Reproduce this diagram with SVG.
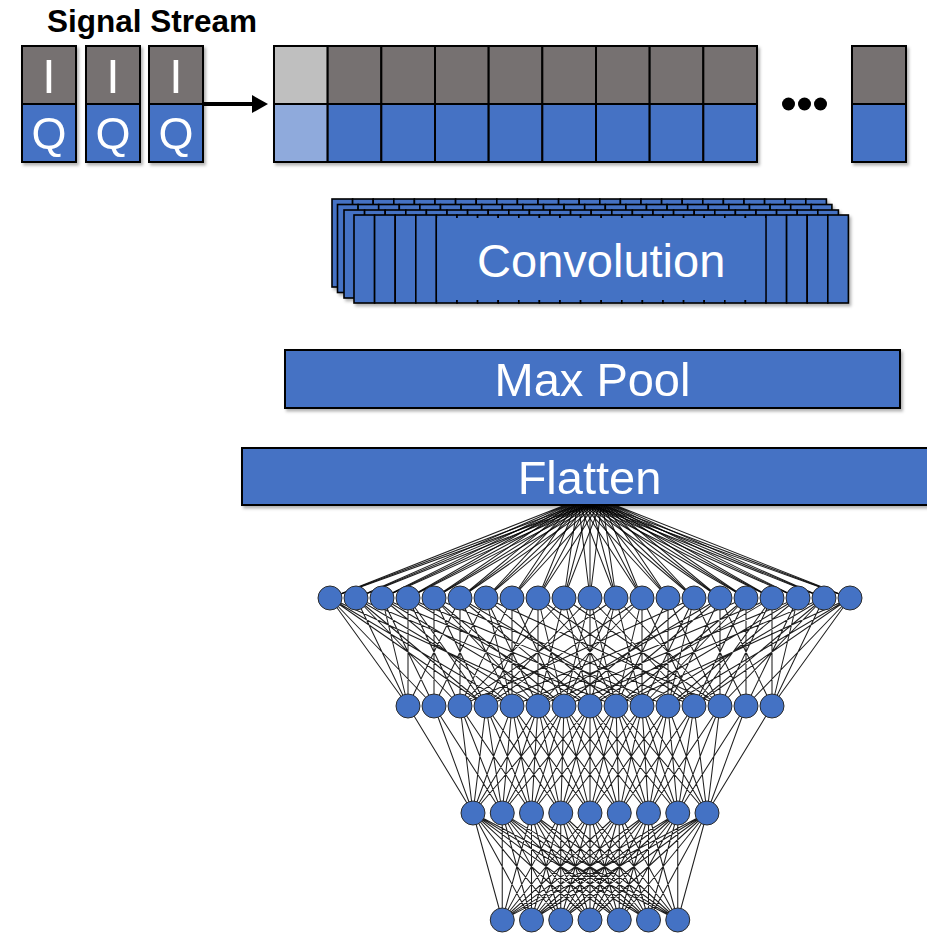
<svg xmlns="http://www.w3.org/2000/svg" xmlns:xlink="http://www.w3.org/1999/xlink" width="927" height="933" viewBox="0 0 927 933">
<style>
  .ttl{font-family:"Liberation Sans",Arial,Helvetica,sans-serif;font-weight:bold;font-size:31.5px;fill:#000}
  .lbl{font-family:"Liberation Sans",Arial,Helvetica,sans-serif;fill:#fff;text-anchor:middle}
  .gray{fill:#767171;stroke:#000;stroke-width:2}
  .blue{fill:#4472C4;stroke:#000;stroke-width:2}
  .lgray{fill:#BFBFBF;stroke:#000;stroke-width:2}
  .lblue{fill:#8FAADC;stroke:#000;stroke-width:2}
  .strip{fill:#4472C4;stroke:#000;stroke-width:1.6}
  .wire{fill:none;stroke:#000;stroke-width:1.05;stroke-opacity:0.88}
  .neuron{fill:#4472C4;stroke:#2b2b2b;stroke-width:1}
</style>
<defs>
  <filter id="sh" x="-10%" y="-10%" width="130%" height="140%">
    <feDropShadow dx="2" dy="2.5" stdDeviation="1.8" flood-color="#000" flood-opacity="0.3"/>
  </filter>
  <marker id="head" markerUnits="userSpaceOnUse" markerWidth="18" markerHeight="18" refX="0" refY="9" orient="auto">
    <path d="M0 0L16 9L0 18z" fill="#000"/>
  </marker>
  <!-- one filter sheet: 24 narrow kernels side by side -->
  <g id="sheet">
    <rect class="strip" x="0" y="0" width="20.6" height="88"/>
    <rect class="strip" x="20.6" y="0" width="20.6" height="88"/>
    <rect class="strip" x="41.2" y="0" width="20.6" height="88"/>
    <rect class="strip" x="61.8" y="0" width="20.6" height="88"/>
    <rect class="strip" x="82.4" y="0" width="20.6" height="88"/>
    <rect class="strip" x="103" y="0" width="20.6" height="88"/>
    <rect class="strip" x="123.6" y="0" width="20.6" height="88"/>
    <rect class="strip" x="144.2" y="0" width="20.6" height="88"/>
    <rect class="strip" x="164.8" y="0" width="20.6" height="88"/>
    <rect class="strip" x="185.4" y="0" width="20.6" height="88"/>
    <rect class="strip" x="206" y="0" width="20.6" height="88"/>
    <rect class="strip" x="226.6" y="0" width="20.6" height="88"/>
    <rect class="strip" x="247.2" y="0" width="20.6" height="88"/>
    <rect class="strip" x="267.8" y="0" width="20.6" height="88"/>
    <rect class="strip" x="288.4" y="0" width="20.6" height="88"/>
    <rect class="strip" x="309" y="0" width="20.6" height="88"/>
    <rect class="strip" x="329.6" y="0" width="20.6" height="88"/>
    <rect class="strip" x="350.2" y="0" width="20.6" height="88"/>
    <rect class="strip" x="370.8" y="0" width="20.6" height="88"/>
    <rect class="strip" x="391.4" y="0" width="20.6" height="88"/>
    <rect class="strip" x="412" y="0" width="20.6" height="88"/>
    <rect class="strip" x="432.6" y="0" width="20.6" height="88"/>
    <rect class="strip" x="453.2" y="0" width="20.6" height="88"/>
    <rect class="strip" x="473.8" y="0" width="20.6" height="88"/>
  </g>
</defs>

<rect width="927" height="933" fill="#fff"/>

<!-- connectors -->
<g id="connectors">
  <path id="stream-arrow" d="M203 104H252" stroke="#000" stroke-width="4" fill="none" marker-end="url(#head)"/>
  <!-- flatten output to first dense layer -->
  <path class="wire" d="M578 500L330 598M578 500L356 598M578 500L382 598M578 500L408 598M578 500L434 598M578 500L460 598M578 500L486 598M578 500L512 598M578 500L538 598M578 500L564 598M578 500L590 598M578 500L616 598M578 500L642 598M578 500L668 598M578 500L694 598M578 500L720 598M578 500L746 598M578 500L772 598M578 500L798 598M578 500L824 598M578 500L850 598"/>
  <path class="wire" d="M590 500L330 598M590 500L356 598M590 500L382 598M590 500L408 598M590 500L434 598M590 500L460 598M590 500L486 598M590 500L512 598M590 500L538 598M590 500L564 598M590 500L590 598M590 500L616 598M590 500L642 598M590 500L668 598M590 500L694 598M590 500L720 598M590 500L746 598M590 500L772 598M590 500L798 598M590 500L824 598M590 500L850 598"/>
  <path class="wire" d="M602 500L330 598M602 500L356 598M602 500L382 598M602 500L408 598M602 500L434 598M602 500L460 598M602 500L486 598M602 500L512 598M602 500L538 598M602 500L564 598M602 500L590 598M602 500L616 598M602 500L642 598M602 500L668 598M602 500L694 598M602 500L720 598M602 500L746 598M602 500L772 598M602 500L798 598M602 500L824 598M602 500L850 598"/>
  <!-- dense layer 1 to dense layer 2 (sparse links) -->
  <path class="wire" d="M330 598l78 108M330 598l104 108M330 598l156 108M330 598l182 108M330 598l234 108
    M356 598l52 108M356 598l104 108M356 598l130 108M356 598l182 108M356 598l260 108
    M382 598l26 108M382 598l52 108M382 598l130 108M382 598l182 108M382 598l260 108
    M408 598l0 108M408 598l52 108M408 598l78 108M408 598l182 108M408 598l260 108
    M434 598l0 108M434 598l52 108M434 598l104 108M434 598l130 108M434 598l260 108
    M460 598l-52 108M460 598l0 108M460 598l52 108M460 598l130 108M460 598l182 108
    M486 598l-52 108M486 598l26 108M486 598l52 108M486 598l130 108M486 598l234 108
    M512 598l-52 108M512 598l0 108M512 598l52 108
    M538 598l-52 108M538 598l0 108M538 598l26 108M538 598l104 108M538 598l156 108
    M564 598l-104 108M564 598l-26 108M564 598l26 108M564 598l52 108M564 598l156 108
    M590 598l-104 108M590 598l-26 108M590 598l0 108M590 598l26 108M590 598l104 108
    M616 598l-156 108M616 598l-52 108M616 598l-26 108M616 598l26 108M616 598l104 108
    M642 598l-156 108M642 598l-104 108M642 598l-26 108M642 598l0 108M642 598l52 108
    M668 598l-52 108M668 598l0 108M668 598l52 108
    M694 598l-234 108M694 598l-130 108M694 598l-52 108M694 598l-26 108M694 598l52 108
    M720 598l-182 108M720 598l-130 108M720 598l-52 108M720 598l0 108M720 598l52 108
    M746 598l-260 108M746 598l-130 108M746 598l-104 108M746 598l-52 108M746 598l0 108
    M772 598l-260 108M772 598l-182 108M772 598l-78 108M772 598l-52 108M772 598l0 108
    M798 598l-260 108M798 598l-182 108M798 598l-130 108M798 598l-52 108M798 598l-26 108
    M824 598l-260 108M824 598l-182 108M824 598l-130 108M824 598l-104 108M824 598l-52 108
    M850 598l-234 108M850 598l-182 108M850 598l-156 108M850 598l-104 108M850 598l-78 108"/>
  <!-- dense layer 2 to dense layer 3 (window of 7) -->
  <path class="wire" d="M408 706L473 813M434 706L473 813M460 706L473 813M486 706L473 813M512 706L473 813M538 706L473 813M564 706L473 813
    M434 706L502.25 813M460 706L502.25 813M486 706L502.25 813M512 706L502.25 813M538 706L502.25 813M564 706L502.25 813M590 706L502.25 813
    M460 706L531.5 813M486 706L531.5 813M512 706L531.5 813M538 706L531.5 813M564 706L531.5 813M590 706L531.5 813M616 706L531.5 813
    M486 706L560.75 813M512 706L560.75 813M538 706L560.75 813M564 706L560.75 813M590 706L560.75 813M616 706L560.75 813M642 706L560.75 813
    M512 706L590 813M538 706L590 813M564 706L590 813M590 706L590 813M616 706L590 813M642 706L590 813M668 706L590 813
    M538 706L619.25 813M564 706L619.25 813M590 706L619.25 813M616 706L619.25 813M642 706L619.25 813M668 706L619.25 813M694 706L619.25 813
    M564 706L648.5 813M590 706L648.5 813M616 706L648.5 813M642 706L648.5 813M668 706L648.5 813M694 706L648.5 813M720 706L648.5 813
    M590 706L677.75 813M616 706L677.75 813M642 706L677.75 813M668 706L677.75 813M694 706L677.75 813M720 706L677.75 813M746 706L677.75 813
    M616 706L707 813M642 706L707 813M668 706L707 813M694 706L707 813M720 706L707 813M746 706L707 813M772 706L707 813"/>
  <!-- dense layer 3 to output layer (fully connected) -->
  <path class="wire" d="M473 813L502.25 920M473 813L531.5 920M473 813L560.75 920M473 813L590 920M473 813L619.25 920M473 813L648.5 920M473 813L677.75 920
    M502.25 813L502.25 920M502.25 813L531.5 920M502.25 813L560.75 920M502.25 813L590 920M502.25 813L619.25 920M502.25 813L648.5 920M502.25 813L677.75 920
    M531.5 813L502.25 920M531.5 813L531.5 920M531.5 813L560.75 920M531.5 813L590 920M531.5 813L619.25 920M531.5 813L648.5 920M531.5 813L677.75 920
    M560.75 813L502.25 920M560.75 813L531.5 920M560.75 813L560.75 920M560.75 813L590 920M560.75 813L619.25 920M560.75 813L648.5 920M560.75 813L677.75 920
    M590 813L502.25 920M590 813L531.5 920M590 813L560.75 920M590 813L590 920M590 813L619.25 920M590 813L648.5 920M590 813L677.75 920
    M619.25 813L502.25 920M619.25 813L531.5 920M619.25 813L560.75 920M619.25 813L590 920M619.25 813L619.25 920M619.25 813L648.5 920M619.25 813L677.75 920
    M648.5 813L502.25 920M648.5 813L531.5 920M648.5 813L560.75 920M648.5 813L590 920M648.5 813L619.25 920M648.5 813L648.5 920M648.5 813L677.75 920
    M677.75 813L502.25 920M677.75 813L531.5 920M677.75 813L560.75 920M677.75 813L590 920M677.75 813L619.25 920M677.75 813L648.5 920M677.75 813L677.75 920
    M707 813L502.25 920M707 813L531.5 920M707 813L560.75 920M707 813L590 920M707 813L619.25 920M707 813L648.5 920M707 813L677.75 920"/>
</g>

<!-- title -->
<text class="ttl" x="47" y="31.5">Signal Stream</text>

<!-- incoming I/Q samples -->
<g id="sample-1" filter="url(#sh)">
  <rect class="gray" x="22" y="46" width="54" height="58"/>
  <rect class="blue" x="22" y="104" width="54" height="58"/>
  <text class="lbl" x="49" y="92.5" font-size="48">I</text>
  <text class="lbl" x="49" y="149" font-size="45">Q</text>
</g>
<g id="sample-2" filter="url(#sh)">
  <rect class="gray" x="86" y="46" width="54" height="58"/>
  <rect class="blue" x="86" y="104" width="54" height="58"/>
  <text class="lbl" x="113" y="92.5" font-size="48">I</text>
  <text class="lbl" x="113" y="149" font-size="45">Q</text>
</g>
<g id="sample-3" filter="url(#sh)">
  <rect class="gray" x="149" y="46" width="54" height="58"/>
  <rect class="blue" x="149" y="104" width="54" height="58"/>
  <text class="lbl" x="176" y="92.5" font-size="48">I</text>
  <text class="lbl" x="176" y="149" font-size="45">Q</text>
</g>

<!-- sample buffer -->
<g id="buffer" filter="url(#sh)">
  <rect class="lgray" x="274" y="46" width="53.67" height="58"/>
  <rect class="lblue" x="274" y="104" width="53.67" height="58"/>
  <rect class="gray" x="327.67" y="46" width="53.67" height="58"/>
  <rect class="blue" x="327.67" y="104" width="53.67" height="58"/>
  <rect class="gray" x="381.33" y="46" width="53.67" height="58"/>
  <rect class="blue" x="381.33" y="104" width="53.67" height="58"/>
  <rect class="gray" x="435" y="46" width="53.67" height="58"/>
  <rect class="blue" x="435" y="104" width="53.67" height="58"/>
  <rect class="gray" x="488.67" y="46" width="53.67" height="58"/>
  <rect class="blue" x="488.67" y="104" width="53.67" height="58"/>
  <rect class="gray" x="542.33" y="46" width="53.67" height="58"/>
  <rect class="blue" x="542.33" y="104" width="53.67" height="58"/>
  <rect class="gray" x="596" y="46" width="53.67" height="58"/>
  <rect class="blue" x="596" y="104" width="53.67" height="58"/>
  <rect class="gray" x="649.67" y="46" width="53.67" height="58"/>
  <rect class="blue" x="649.67" y="104" width="53.67" height="58"/>
  <rect class="gray" x="703.33" y="46" width="53.67" height="58"/>
  <rect class="blue" x="703.33" y="104" width="53.67" height="58"/>
</g>
<g id="ellipsis" fill="#000">
  <circle cx="788.5" cy="104" r="6.5"/>
  <circle cx="804.5" cy="104" r="6.5"/>
  <circle cx="820.5" cy="104" r="6.5"/>
</g>
<g id="buffer-last" filter="url(#sh)">
  <rect class="gray" x="852" y="46" width="54" height="58"/>
  <rect class="blue" x="852" y="104" width="54" height="58"/>
</g>

<!-- convolution: stacked filter sheets -->
<g id="convolution">
  <use xlink:href="#sheet" href="#sheet" transform="translate(332 199)" filter="url(#sh)"/>
  <use xlink:href="#sheet" href="#sheet" transform="translate(337.5 204.5)" filter="url(#sh)"/>
  <use xlink:href="#sheet" href="#sheet" transform="translate(344 210)" filter="url(#sh)"/>
  <use xlink:href="#sheet" href="#sheet" transform="translate(354 215)" filter="url(#sh)"/>
  <rect x="437.15" y="218" width="328.1" height="82" fill="#4472C4"/>
  <text class="lbl" x="601.2" y="277" font-size="47">Convolution</text>
</g>

<g id="max-pool" filter="url(#sh)">
  <rect class="blue" x="285" y="350" width="615" height="58"/>
  <text class="lbl" x="592.5" y="396" font-size="47">Max Pool</text>
</g>

<g id="flatten" filter="url(#sh)">
  <rect class="blue" x="242" y="448" width="700" height="57"/>
  <text class="lbl" x="589.5" y="494" font-size="47">Flatten</text>
</g>

<!-- dense layer 1 -->
<g id="dense-1">
  <g id="d1-00"><circle class="neuron" cx="330" cy="598" r="12"/></g>
  <g id="d1-01"><circle class="neuron" cx="356" cy="598" r="12"/></g>
  <g id="d1-02"><circle class="neuron" cx="382" cy="598" r="12"/></g>
  <g id="d1-03"><circle class="neuron" cx="408" cy="598" r="12"/></g>
  <g id="d1-04"><circle class="neuron" cx="434" cy="598" r="12"/></g>
  <g id="d1-05"><circle class="neuron" cx="460" cy="598" r="12"/></g>
  <g id="d1-06"><circle class="neuron" cx="486" cy="598" r="12"/></g>
  <g id="d1-07"><circle class="neuron" cx="512" cy="598" r="12"/></g>
  <g id="d1-08"><circle class="neuron" cx="538" cy="598" r="12"/></g>
  <g id="d1-09"><circle class="neuron" cx="564" cy="598" r="12"/></g>
  <g id="d1-10"><circle class="neuron" cx="590" cy="598" r="12"/></g>
  <g id="d1-11"><circle class="neuron" cx="616" cy="598" r="12"/></g>
  <g id="d1-12"><circle class="neuron" cx="642" cy="598" r="12"/></g>
  <g id="d1-13"><circle class="neuron" cx="668" cy="598" r="12"/></g>
  <g id="d1-14"><circle class="neuron" cx="694" cy="598" r="12"/></g>
  <g id="d1-15"><circle class="neuron" cx="720" cy="598" r="12"/></g>
  <g id="d1-16"><circle class="neuron" cx="746" cy="598" r="12"/></g>
  <g id="d1-17"><circle class="neuron" cx="772" cy="598" r="12"/></g>
  <g id="d1-18"><circle class="neuron" cx="798" cy="598" r="12"/></g>
  <g id="d1-19"><circle class="neuron" cx="824" cy="598" r="12"/></g>
  <g id="d1-20"><circle class="neuron" cx="850" cy="598" r="12"/></g>
</g>

<!-- dense layer 2 -->
<g id="dense-2">
  <g id="d2-00"><circle class="neuron" cx="408" cy="706" r="12"/></g>
  <g id="d2-01"><circle class="neuron" cx="434" cy="706" r="12"/></g>
  <g id="d2-02"><circle class="neuron" cx="460" cy="706" r="12"/></g>
  <g id="d2-03"><circle class="neuron" cx="486" cy="706" r="12"/></g>
  <g id="d2-04"><circle class="neuron" cx="512" cy="706" r="12"/></g>
  <g id="d2-05"><circle class="neuron" cx="538" cy="706" r="12"/></g>
  <g id="d2-06"><circle class="neuron" cx="564" cy="706" r="12"/></g>
  <g id="d2-07"><circle class="neuron" cx="590" cy="706" r="12"/></g>
  <g id="d2-08"><circle class="neuron" cx="616" cy="706" r="12"/></g>
  <g id="d2-09"><circle class="neuron" cx="642" cy="706" r="12"/></g>
  <g id="d2-10"><circle class="neuron" cx="668" cy="706" r="12"/></g>
  <g id="d2-11"><circle class="neuron" cx="694" cy="706" r="12"/></g>
  <g id="d2-12"><circle class="neuron" cx="720" cy="706" r="12"/></g>
  <g id="d2-13"><circle class="neuron" cx="746" cy="706" r="12"/></g>
  <g id="d2-14"><circle class="neuron" cx="772" cy="706" r="12"/></g>
</g>

<!-- dense layer 3 -->
<g id="dense-3">
  <g id="d3-0"><circle class="neuron" cx="473" cy="813" r="12"/></g>
  <g id="d3-1"><circle class="neuron" cx="502.25" cy="813" r="12"/></g>
  <g id="d3-2"><circle class="neuron" cx="531.5" cy="813" r="12"/></g>
  <g id="d3-3"><circle class="neuron" cx="560.75" cy="813" r="12"/></g>
  <g id="d3-4"><circle class="neuron" cx="590" cy="813" r="12"/></g>
  <g id="d3-5"><circle class="neuron" cx="619.25" cy="813" r="12"/></g>
  <g id="d3-6"><circle class="neuron" cx="648.5" cy="813" r="12"/></g>
  <g id="d3-7"><circle class="neuron" cx="677.75" cy="813" r="12"/></g>
  <g id="d3-8"><circle class="neuron" cx="707" cy="813" r="12"/></g>
</g>

<!-- output layer -->
<g id="output">
  <g id="out-0"><circle class="neuron" cx="502.25" cy="920" r="12"/></g>
  <g id="out-1"><circle class="neuron" cx="531.5" cy="920" r="12"/></g>
  <g id="out-2"><circle class="neuron" cx="560.75" cy="920" r="12"/></g>
  <g id="out-3"><circle class="neuron" cx="590" cy="920" r="12"/></g>
  <g id="out-4"><circle class="neuron" cx="619.25" cy="920" r="12"/></g>
  <g id="out-5"><circle class="neuron" cx="648.5" cy="920" r="12"/></g>
  <g id="out-6"><circle class="neuron" cx="677.75" cy="920" r="12"/></g>
</g>
</svg>
